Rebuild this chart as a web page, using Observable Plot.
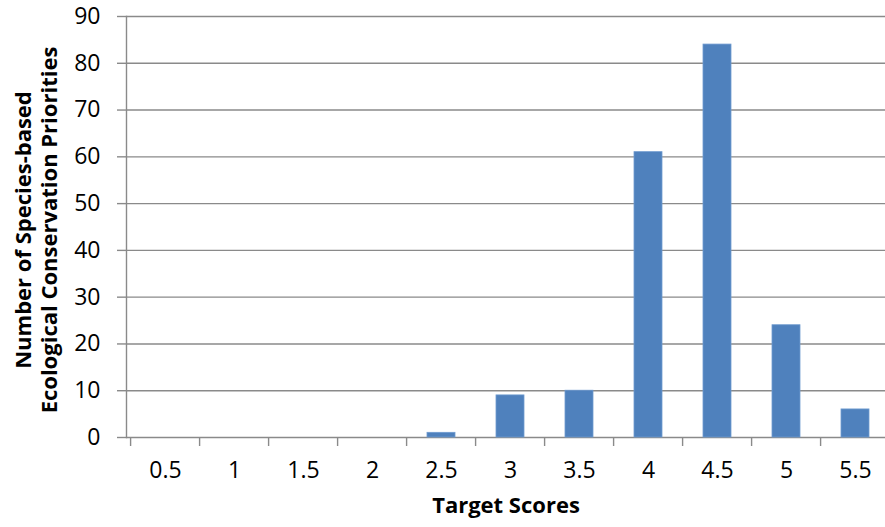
<!DOCTYPE html>
<html>
<head>
<meta charset="utf-8">
<script src="https://cdn.jsdelivr.net/npm/d3@7"></script>
<script src="https://cdn.jsdelivr.net/npm/@observablehq/plot@0.6"></script>
<style>
  html, body { margin: 0; padding: 0; background: #fff; }
  #chart svg { display: block; }
</style>
</head>
<body>
<div id="chart"></div>
<script>
const categories = ["0.5", "1", "1.5", "2", "2.5", "3", "3.5", "4", "4.5", "5", "5.5"];
const counts = [0, 0, 0, 0, 1, 9, 10, 61, 84, 24, 6];
const yTicks = [0, 10, 20, 30, 40, 50, 60, 70, 80, 90];
const xTitle = "Target Scores";
const yTitleLines = ["Number of Species-based", "Ecological Conservation Priorities"];

const data = categories.map((c, i) => ({category: c, count: counts[i]}));

const W = 885, H = 527;
const left = 126, rightEdge = 894;
const step = (rightEdge - left) / categories.length;
const gridColor = "#8a8a8a";
const font = "'Open Sans', sans-serif";

const chart = Plot.plot({
  width: W,
  height: H,
  marginTop: 16,
  marginBottom: 90,
  marginLeft: left,
  marginRight: 0,
  style: {fontFamily: font, fontSize: "23px", color: "#000", background: "#fff"},
  x: {domain: categories, range: [left, rightEdge], paddingInner: 0.6, paddingOuter: 0.3, align: 0.5},
  y: {domain: [0, 90]},
  marks: [
    Plot.ruleY(yTicks, {stroke: gridColor, strokeWidth: 1.4}),
    Plot.axisY(yTicks, {tickSize: 9, tickPadding: 17, stroke: gridColor, strokeWidth: 1.4, fill: "#000", label: null, fontSize: 23}),
    Plot.frame({anchor: "left", stroke: gridColor, strokeWidth: 1.4}),
    Plot.barY(data, {x: "category", y: "count", fill: "#4f81bd", stroke: "#6f9bd0", strokeWidth: 0.8}),
    Plot.axisX({tickSize: 9, tickFormat: null, dx: -step / 2, stroke: gridColor, strokeWidth: 1.4, label: null}),
    Plot.axisX({tickSize: 0, tickPadding: 24, fill: "#000", label: null, fontSize: 23}),
    Plot.text([xTitle], {frameAnchor: "bottom", dy: 75, fontWeight: "bold", fontSize: 22, fill: "#000"}),
    Plot.text([yTitleLines.join("\n")], {frameAnchor: "left", textAnchor: "middle", lineAnchor: "middle", rotate: -90, dx: -91, dy: 3, fontWeight: "bold", fontSize: 22, lineHeight: 1.18, fill: "#000"})
  ]
});
document.getElementById("chart").appendChild(chart);
</script>
</body>
</html>
